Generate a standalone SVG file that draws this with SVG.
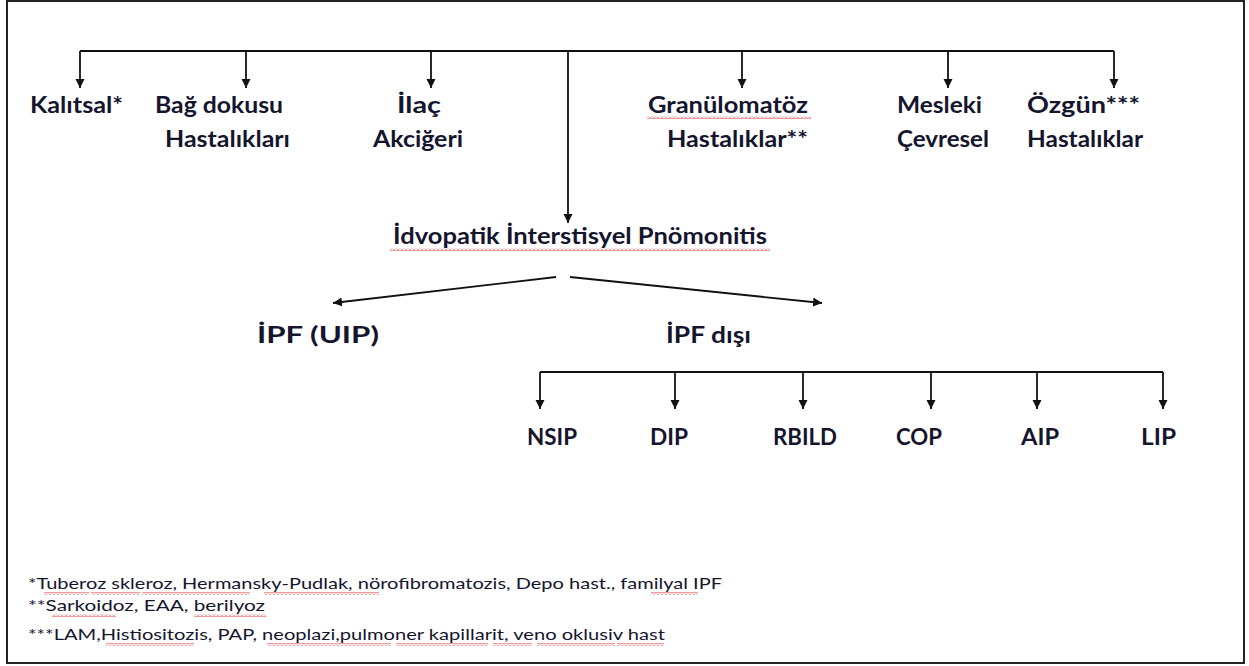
<svg xmlns="http://www.w3.org/2000/svg" width="1249" height="666" viewBox="0 0 1249 666">
<defs>
<style>
.lbl{font-family:Lato,"Open Sans","Liberation Sans",sans-serif;font-weight:700;font-size:22px;fill:#15152e}
.fn{font-family:Lato,"Open Sans","Liberation Sans",sans-serif;font-weight:400;font-size:16px;fill:#15152e}
.ln{stroke:#111;stroke-width:1.8;fill:none}
.sq{fill:url(#wave)}
</style>
<marker id="ah" markerUnits="userSpaceOnUse" markerWidth="10" markerHeight="10" refX="9" refY="5" orient="auto">
<path d="M0,0.5 L9,5 L0,9.5 z" fill="#111"/>
</marker>
<pattern id="wave" patternUnits="userSpaceOnUse" width="4" height="3">
<path d="M0,2.5 L2,0.5 L4,2.5" stroke="#e52020" stroke-width="0.9" fill="none"/>
</pattern>
</defs>
<rect x="0" y="0" width="1249" height="666" fill="#fff"/>
<rect x="7" y="1" width="1237" height="662" fill="none" stroke="#222" stroke-width="2"/>

<g id="connectors">
<path class="ln" d="M80,51 H1114"/>
<path class="ln" d="M80,51 V88" marker-end="url(#ah)"/>
<path class="ln" d="M246,51 V88" marker-end="url(#ah)"/>
<path class="ln" d="M431,51 V88" marker-end="url(#ah)"/>
<path class="ln" d="M742,51 V88" marker-end="url(#ah)"/>
<path class="ln" d="M948,51 V88" marker-end="url(#ah)"/>
<path class="ln" d="M1114,51 V88" marker-end="url(#ah)"/>
<path class="ln" d="M568,51 V223" marker-end="url(#ah)"/>
<path class="ln" d="M556,277 L333,303" marker-end="url(#ah)"/>
<path class="ln" d="M570,277 L822,303" marker-end="url(#ah)"/>
<path class="ln" d="M540,372 H1163"/>
<path class="ln" d="M540,372 V409" marker-end="url(#ah)"/>
<path class="ln" d="M675,372 V409" marker-end="url(#ah)"/>
<path class="ln" d="M803,372 V409" marker-end="url(#ah)"/>
<path class="ln" d="M931,372 V409" marker-end="url(#ah)"/>
<path class="ln" d="M1037,372 V409" marker-end="url(#ah)"/>
<path class="ln" d="M1163,372 V409" marker-end="url(#ah)"/>
</g>

<g id="kalitsal"><text class="lbl" x="30" y="113" textLength="93" lengthAdjust="spacingAndGlyphs">Kalıtsal*</text></g>
<g id="bag-dokusu">
<text class="lbl" x="155" y="113" textLength="128" lengthAdjust="spacingAndGlyphs">Bağ dokusu</text>
<text class="lbl" x="165" y="147" textLength="125" lengthAdjust="spacingAndGlyphs">Hastalıkları</text>
</g>
<g id="ilac">
<text class="lbl" x="397" y="113" textLength="44" lengthAdjust="spacingAndGlyphs">İlaç</text>
<text class="lbl" x="373" y="147" textLength="90" lengthAdjust="spacingAndGlyphs">Akciğeri</text>
</g>
<g id="granulomatoz">
<text class="lbl" x="648" y="113" textLength="160" lengthAdjust="spacingAndGlyphs">Granülomatöz</text>
<rect class="sq" x="647" y="116" width="164" height="3"/>
<text class="lbl" x="667" y="147" textLength="141" lengthAdjust="spacingAndGlyphs">Hastalıklar**</text>
</g>
<g id="mesleki">
<text class="lbl" x="897" y="113" textLength="85" lengthAdjust="spacingAndGlyphs">Mesleki</text>
<text class="lbl" x="897" y="147" textLength="92" lengthAdjust="spacingAndGlyphs">Çevresel</text>
</g>
<g id="ozgun">
<text class="lbl" x="1027" y="113" textLength="113" lengthAdjust="spacingAndGlyphs">Özgün***</text>
<text class="lbl" x="1027" y="147" textLength="116" lengthAdjust="spacingAndGlyphs">Hastalıklar</text>
</g>
<g id="iip">
<text class="lbl" x="393" y="244" textLength="374" lengthAdjust="spacingAndGlyphs">İdvopatik İnterstisyel Pnömonitis</text>
<rect class="sq" x="390" y="248" width="380" height="3"/>
</g>
<g id="ipf-uip"><text class="lbl" x="257" y="343" textLength="122" lengthAdjust="spacingAndGlyphs">İPF  (UIP)</text></g>
<g id="ipf-disi"><text class="lbl" x="666" y="343" textLength="85" lengthAdjust="spacingAndGlyphs">İPF dışı</text></g>
<g id="nsip"><text class="lbl" x="527" y="445" textLength="50" lengthAdjust="spacingAndGlyphs">NSIP</text></g>
<g id="dip"><text class="lbl" x="650" y="445" textLength="38" lengthAdjust="spacingAndGlyphs">DIP</text></g>
<g id="rbild"><text class="lbl" x="773" y="445" textLength="64" lengthAdjust="spacingAndGlyphs">RBILD</text></g>
<g id="cop"><text class="lbl" x="896" y="445" textLength="46" lengthAdjust="spacingAndGlyphs">COP</text></g>
<g id="aip"><text class="lbl" x="1021" y="445" textLength="38" lengthAdjust="spacingAndGlyphs">AIP</text></g>
<g id="lip"><text class="lbl" x="1141" y="445" textLength="35" lengthAdjust="spacingAndGlyphs">LIP</text></g>

<g id="footnotes">
<text class="fn" x="28" y="589" textLength="694" lengthAdjust="spacingAndGlyphs">*Tuberoz skleroz, Hermansky-Pudlak, nörofibromatozis, Depo hast., familyal IPF</text>
<rect class="sq" x="44" y="592" width="45" height="3"/>
<rect class="sq" x="91" y="592" width="49" height="3"/>
<rect class="sq" x="142" y="592" width="108" height="3"/>
<rect class="sq" x="264" y="592" width="115" height="3"/>
<rect class="sq" x="651" y="592" width="47" height="3"/>
<text class="fn" x="28" y="611" textLength="237" lengthAdjust="spacingAndGlyphs">**Sarkoidoz, EAA, berilyoz</text>
<rect class="sq" x="52" y="614" width="64" height="3"/>
<rect class="sq" x="194" y="614" width="72" height="3"/>
<text class="fn" x="28" y="640" textLength="637" lengthAdjust="spacingAndGlyphs">***LAM,Histiositozis, PAP, neoplazi,pulmoner kapillarit, veno oklusiv hast</text>
<rect class="sq" x="106" y="643" width="88" height="3"/>
<rect class="sq" x="267" y="643" width="124" height="3"/>
<rect class="sq" x="396" y="643" width="92" height="3"/>
<rect class="sq" x="493" y="643" width="39" height="3"/>
<rect class="sq" x="537" y="643" width="78" height="3"/>
<rect class="sq" x="617" y="643" width="47" height="3"/>
</g>
</svg>
